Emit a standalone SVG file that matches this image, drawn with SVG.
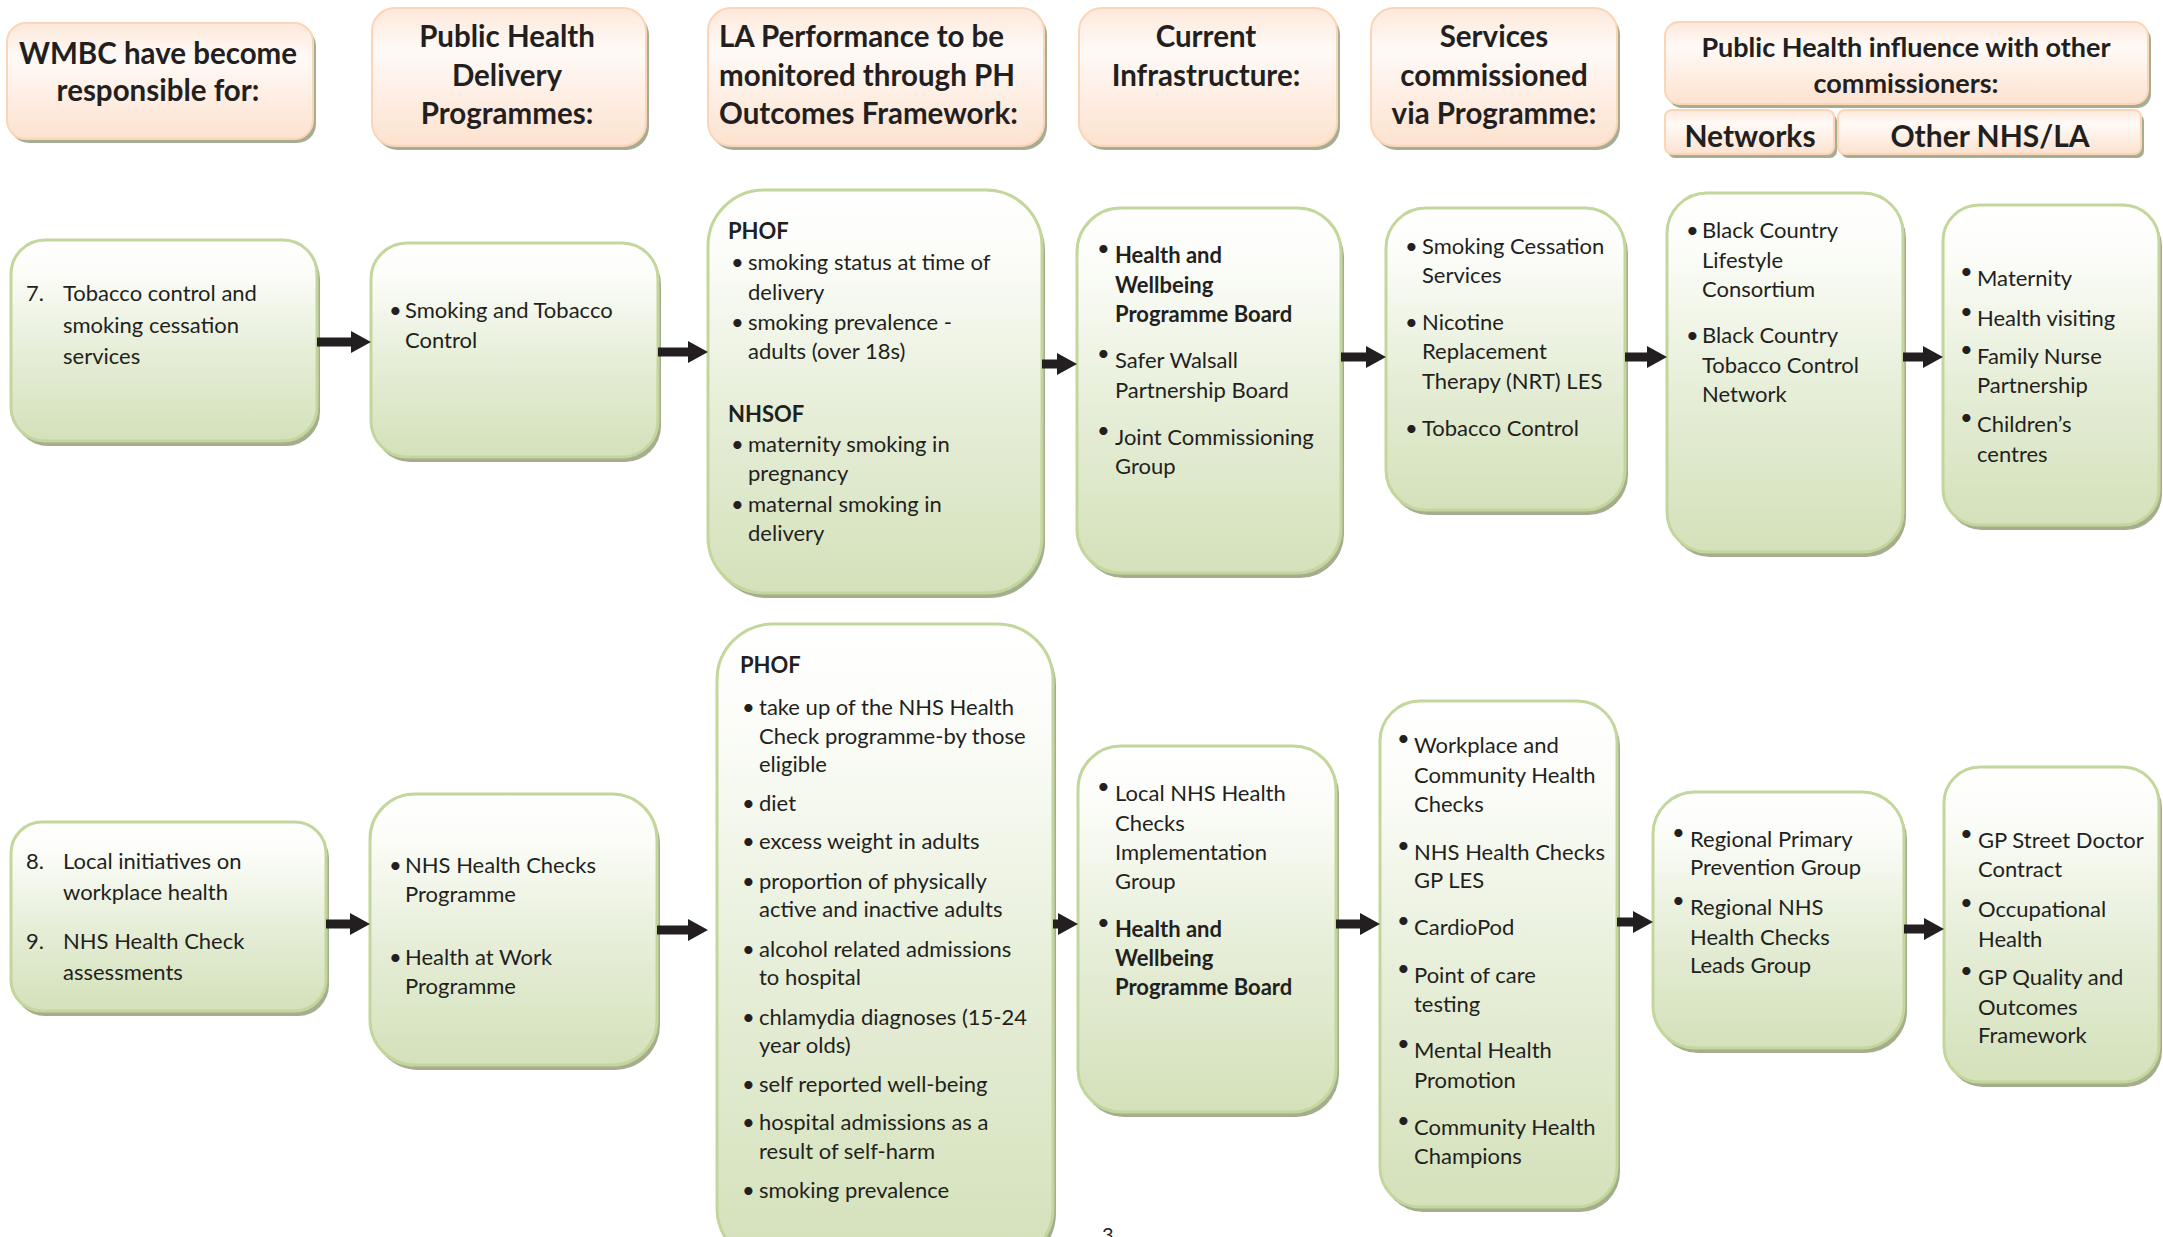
<svg xmlns="http://www.w3.org/2000/svg" width="2163" height="1237" viewBox="0 0 2163 1237">
<defs>
<linearGradient id="gg" x1="0" y1="0" x2="0" y2="1">
<stop offset="0" stop-color="#ffffff"/>
<stop offset="0.15" stop-color="#fcfdf9"/>
<stop offset="0.55" stop-color="#e6eed8"/>
<stop offset="1" stop-color="#d4e1ba"/>
</linearGradient>
<linearGradient id="pg" x1="0" y1="0" x2="0" y2="1">
<stop offset="0" stop-color="#fde8da"/>
<stop offset="0.3" stop-color="#fffaf7"/>
<stop offset="1" stop-color="#fde2cf"/>
</linearGradient>
<style>
.t{font-family:Lato,"Liberation Sans",sans-serif;font-size:22px;fill:#231f20}
.b{font-weight:bold}
.h{font-family:Lato,"Liberation Sans",sans-serif;font-weight:bold;font-size:29.5px;fill:#231f20}
.hs{font-size:27px}
.hn{font-size:30px}
.node{fill:url(#gg);stroke:#c3d69b;stroke-width:3}
.nsh{fill:#a4ae8f}
.head{fill:url(#pg);stroke:#fbd5b5;stroke-width:2}
.hsh{fill:#a5ad92}
.arrow{fill:#231f20}
.c{text-anchor:middle}
</style>
</defs>
<rect width="2163" height="1237" fill="#ffffff"/>

<!-- headers -->
<g id="h-wmbc">
<rect class="hsh" x="10" y="27" width="306" height="116" rx="19"/>
<rect class="head" x="7" y="23" width="306" height="116" rx="19"/>
<text class="h c" x="158"><tspan x="158" y="64">WMBC have become</tspan><tspan x="158" y="101">responsible for:</tspan></text>
</g>
<g id="h-delivery">
<rect class="hsh" x="375" y="12" width="274" height="138" rx="23"/>
<rect class="head" x="372" y="8" width="274" height="138" rx="23"/>
<text class="h c"><tspan x="507" y="47">Public Health</tspan><tspan x="507" y="86">Delivery</tspan><tspan x="507" y="124">Programmes:</tspan></text>
</g>
<g id="h-performance">
<rect class="hsh" x="711" y="12" width="336" height="138" rx="23"/>
<rect class="head" x="708" y="8" width="336" height="138" rx="23"/>
<text class="h"><tspan x="719" y="47">LA Performance to be</tspan><tspan x="719" y="86">monitored through PH</tspan><tspan x="719" y="124">Outcomes Framework:</tspan></text>
</g>
<g id="h-infra">
<rect class="hsh" x="1082" y="12" width="258" height="138" rx="23"/>
<rect class="head" x="1079" y="8" width="258" height="138" rx="23"/>
<text class="h c"><tspan x="1206" y="47">Current</tspan><tspan x="1206" y="86">Infrastructure:</tspan></text>
</g>
<g id="h-services">
<rect class="hsh" x="1374" y="12" width="246" height="138" rx="23"/>
<rect class="head" x="1371" y="8" width="246" height="138" rx="23"/>
<text class="h c"><tspan x="1494" y="47">Services</tspan><tspan x="1494" y="86">commissioned</tspan><tspan x="1494" y="124">via Programme:</tspan></text>
</g>
<g id="h-influence">
<rect class="hsh" x="1668" y="26" width="483" height="82" rx="14"/>
<rect class="head" x="1665" y="22" width="483" height="82" rx="14"/>
<text class="h hs c"><tspan x="1906" y="57">Public Health influence with other</tspan><tspan x="1906" y="93">commissioners:</tspan></text>
</g>
<g id="h-networks">
<rect class="hsh" x="1668" y="114" width="169" height="44" rx="7"/>
<rect class="head" x="1665" y="110" width="169" height="44" rx="7"/>
<text class="h hn c" x="1750" y="147">Networks</text>
</g>
<g id="h-other">
<rect class="hsh" x="1841" y="114" width="303" height="44" rx="7"/>
<rect class="head" x="1838" y="110" width="303" height="44" rx="7"/>
<text class="h hn c" x="1990" y="147">Other NHS/LA</text>
</g>

<!-- row 1 -->
<g id="n-a1">
<rect class="nsh" x="14" y="245" width="306" height="201" rx="34"/>
<rect class="node" x="11" y="240" width="306" height="201" rx="34"/>
<text class="t"><tspan x="26" y="301">7.</tspan><tspan x="63" y="301">Tobacco control and</tspan><tspan x="63" y="333">smoking cessation</tspan><tspan x="63" y="364">services</tspan></text>
</g>
<g id="n-b1">
<rect class="nsh" x="374" y="248" width="287" height="214" rx="36"/>
<rect class="node" x="371" y="243" width="287" height="214" rx="36"/>
<text class="t"><tspan x="389" y="318">•</tspan><tspan x="405" y="318">Smoking and Tobacco</tspan><tspan x="405" y="348">Control</tspan></text>
</g>
<g id="n-c1">
<rect class="nsh" x="711" y="195" width="334" height="403" rx="56"/>
<rect class="node" x="708" y="190" width="334" height="403" rx="56"/>
<text class="t"><tspan class="b" x="728" y="239">PHOF</tspan><tspan x="731" y="270">•</tspan><tspan x="748" y="270">smoking status at time of</tspan><tspan x="748" y="300">delivery</tspan><tspan x="731" y="330">•</tspan><tspan x="748" y="330">smoking prevalence -</tspan><tspan x="748" y="359">adults (over 18s)</tspan><tspan class="b" x="728" y="422">NHSOF</tspan><tspan x="731" y="452">•</tspan><tspan x="748" y="452">maternity smoking in</tspan><tspan x="748" y="481">pregnancy</tspan><tspan x="731" y="512">•</tspan><tspan x="748" y="512">maternal smoking in</tspan><tspan x="748" y="541">delivery</tspan></text>
</g>
<g id="n-d1">
<rect class="nsh" x="1080" y="213" width="264" height="365" rx="44"/>
<rect class="node" x="1077" y="208" width="264" height="365" rx="44"/>
<text class="t"><tspan x="1097" y="256">•</tspan><tspan class="b" x="1115" y="263">Health and</tspan><tspan class="b" x="1115" y="293">Wellbeing</tspan><tspan class="b" x="1115" y="322">Programme Board</tspan><tspan x="1097" y="361">•</tspan><tspan x="1115" y="368">Safer Walsall</tspan><tspan x="1115" y="398">Partnership Board</tspan><tspan x="1097" y="438">•</tspan><tspan x="1115" y="445">Joint Commissioning</tspan><tspan x="1115" y="474">Group</tspan></text>
</g>
<g id="n-e1">
<rect class="nsh" x="1389" y="213" width="239" height="302" rx="40"/>
<rect class="node" x="1386" y="208" width="239" height="302" rx="40"/>
<text class="t"><tspan x="1405" y="254">•</tspan><tspan x="1422" y="254">Smoking Cessation</tspan><tspan x="1422" y="283">Services</tspan><tspan x="1405" y="330">•</tspan><tspan x="1422" y="330">Nicotine</tspan><tspan x="1422" y="359">Replacement</tspan><tspan x="1422" y="389">Therapy (NRT) LES</tspan><tspan x="1405" y="436">•</tspan><tspan x="1422" y="436">Tobacco Control</tspan></text>
</g>
<g id="n-f1">
<rect class="nsh" x="1670" y="198" width="236" height="359" rx="40"/>
<rect class="node" x="1667" y="193" width="236" height="359" rx="40"/>
<text class="t"><tspan x="1686" y="238">•</tspan><tspan x="1702" y="238">Black Country</tspan><tspan x="1702" y="268">Lifestyle</tspan><tspan x="1702" y="297">Consortium</tspan><tspan x="1686" y="343">•</tspan><tspan x="1702" y="343">Black Country</tspan><tspan x="1702" y="373">Tobacco Control</tspan><tspan x="1702" y="402">Network</tspan></text>
</g>
<g id="n-g1">
<rect class="nsh" x="1946" y="210" width="216" height="320" rx="36"/>
<rect class="node" x="1943" y="205" width="216" height="320" rx="36"/>
<text class="t"><tspan x="1960" y="279">•</tspan><tspan x="1977" y="286">Maternity</tspan><tspan x="1960" y="319">•</tspan><tspan x="1977" y="326">Health visiting</tspan><tspan x="1960" y="357">•</tspan><tspan x="1977" y="364">Family Nurse</tspan><tspan x="1977" y="393">Partnership</tspan><tspan x="1960" y="425">•</tspan><tspan x="1977" y="432">Children’s</tspan><tspan x="1977" y="462">centres</tspan></text>
</g>

<!-- row 2 -->
<g id="n-a2">
<rect class="nsh" x="14" y="827" width="315" height="189" rx="31"/>
<rect class="node" x="11" y="822" width="315" height="189" rx="31"/>
<text class="t"><tspan x="26" y="869">8.</tspan><tspan x="63" y="869">Local initiatives on</tspan><tspan x="63" y="900">workplace health</tspan><tspan x="26" y="949">9.</tspan><tspan x="63" y="949">NHS Health Check</tspan><tspan x="63" y="980">assessments</tspan></text>
</g>
<g id="n-b2">
<rect class="nsh" x="373" y="799" width="287" height="271" rx="45"/>
<rect class="node" x="370" y="794" width="287" height="271" rx="45"/>
<text class="t"><tspan x="389" y="873">•</tspan><tspan x="405" y="873">NHS Health Checks</tspan><tspan x="405" y="902">Programme</tspan><tspan x="389" y="965">•</tspan><tspan x="405" y="965">Health at Work</tspan><tspan x="405" y="994">Programme</tspan></text>
</g>
<g id="n-c2">
<rect class="nsh" x="720" y="629" width="336" height="640" rx="56"/>
<rect class="node" x="717" y="624" width="336" height="640" rx="56"/>
<text class="t"><tspan class="b" x="740" y="673">PHOF</tspan><tspan x="742" y="715">•</tspan><tspan x="759" y="715">take up of the NHS Health</tspan><tspan x="759" y="744">Check programme-by those</tspan><tspan x="759" y="772">eligible</tspan><tspan x="742" y="811">•</tspan><tspan x="759" y="811">diet</tspan><tspan x="742" y="849">•</tspan><tspan x="759" y="849">excess weight in adults</tspan><tspan x="742" y="889">•</tspan><tspan x="759" y="889">proportion of physically</tspan><tspan x="759" y="917">active and inactive adults</tspan><tspan x="742" y="957">•</tspan><tspan x="759" y="957">alcohol related admissions</tspan><tspan x="759" y="985">to hospital</tspan><tspan x="742" y="1025">•</tspan><tspan x="759" y="1025">chlamydia diagnoses (15-24</tspan><tspan x="759" y="1053">year olds)</tspan><tspan x="742" y="1092">•</tspan><tspan x="759" y="1092">self reported well-being</tspan><tspan x="742" y="1130">•</tspan><tspan x="759" y="1130">hospital admissions as a</tspan><tspan x="759" y="1159">result of self-harm</tspan><tspan x="742" y="1198">•</tspan><tspan x="759" y="1198">smoking prevalence</tspan></text>
</g>
<g id="n-d2">
<rect class="nsh" x="1081" y="751" width="258" height="366" rx="43"/>
<rect class="node" x="1078" y="746" width="258" height="366" rx="43"/>
<text class="t"><tspan x="1097" y="794">•</tspan><tspan x="1115" y="801">Local NHS Health</tspan><tspan x="1115" y="831">Checks</tspan><tspan x="1115" y="860">Implementation</tspan><tspan x="1115" y="889">Group</tspan><tspan x="1097" y="930">•</tspan><tspan class="b" x="1115" y="937">Health and</tspan><tspan class="b" x="1115" y="966">Wellbeing</tspan><tspan class="b" x="1115" y="995">Programme Board</tspan></text>
</g>
<g id="n-e2">
<rect class="nsh" x="1383" y="706" width="237" height="506" rx="40"/>
<rect class="node" x="1380" y="701" width="237" height="506" rx="40"/>
<text class="t"><tspan x="1397" y="746">•</tspan><tspan x="1414" y="753">Workplace and</tspan><tspan x="1414" y="783">Community Health</tspan><tspan x="1414" y="812">Checks</tspan><tspan x="1397" y="853">•</tspan><tspan x="1414" y="860">NHS Health Checks</tspan><tspan x="1414" y="888">GP LES</tspan><tspan x="1397" y="928">•</tspan><tspan x="1414" y="935">CardioPod</tspan><tspan x="1397" y="976">•</tspan><tspan x="1414" y="983">Point of care</tspan><tspan x="1414" y="1012">testing</tspan><tspan x="1397" y="1051">•</tspan><tspan x="1414" y="1058">Mental Health</tspan><tspan x="1414" y="1088">Promotion</tspan><tspan x="1397" y="1128">•</tspan><tspan x="1414" y="1135">Community Health</tspan><tspan x="1414" y="1164">Champions</tspan></text>
</g>
<g id="n-f2">
<rect class="nsh" x="1656" y="797" width="251" height="256" rx="42"/>
<rect class="node" x="1653" y="792" width="251" height="256" rx="42"/>
<text class="t"><tspan x="1672" y="840">•</tspan><tspan x="1690" y="847">Regional Primary</tspan><tspan x="1690" y="875">Prevention Group</tspan><tspan x="1672" y="908">•</tspan><tspan x="1690" y="915">Regional NHS</tspan><tspan x="1690" y="945">Health Checks</tspan><tspan x="1690" y="973">Leads Group</tspan></text>
</g>
<g id="n-g2">
<rect class="nsh" x="1947" y="772" width="215" height="315" rx="36"/>
<rect class="node" x="1944" y="767" width="215" height="315" rx="36"/>
<text class="t"><tspan x="1960" y="841">•</tspan><tspan x="1978" y="848">GP Street Doctor</tspan><tspan x="1978" y="877">Contract</tspan><tspan x="1960" y="910">•</tspan><tspan x="1978" y="917">Occupational</tspan><tspan x="1978" y="947">Health</tspan><tspan x="1960" y="978">•</tspan><tspan x="1978" y="985">GP Quality and</tspan><tspan x="1978" y="1015">Outcomes</tspan><tspan x="1978" y="1043">Framework</tspan></text>
</g>

<!-- connectors -->
<g id="connectors" class="arrow">
<path d="M317 337.5H351V331L371 342L351 353V346.5H317Z"/>
<path d="M658 347.5H688V341L708 352L688 363V356.5H658Z"/>
<path d="M1042 359.5H1057V353L1077 364L1057 375V368.5H1042Z"/>
<path d="M1341 352.5H1366V346L1386 357L1366 368V361.5H1341Z"/>
<path d="M1625 352.5H1647V346L1667 357L1647 368V361.5H1625Z"/>
<path d="M1903 352.5H1923V346L1943 357L1923 368V361.5H1903Z"/>
<path d="M326 919.5H350V913L370 924L350 935V928.5H326Z"/>
<path d="M657 925.5H688V919L708 930L688 941V934.5H657Z"/>
<path d="M1053 919.5H1058V913L1078 924L1058 935V928.5H1053Z"/>
<path d="M1336 919.5H1360V913L1380 924L1360 935V928.5H1336Z"/>
<path d="M1617 917.5H1633V911L1653 922L1633 933V926.5H1617Z"/>
<path d="M1904 924.5H1924V918L1944 929L1924 940V933.5H1904Z"/>
</g>

<text class="t" x="1102" y="1242" style="font-size:20px">3</text>
</svg>
